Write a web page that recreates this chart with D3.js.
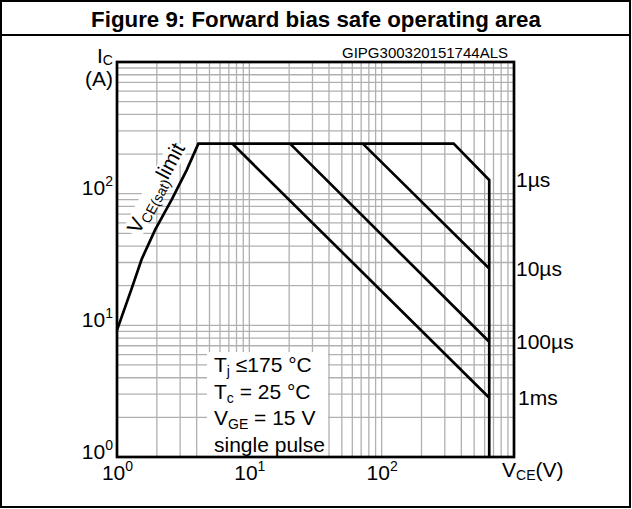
<!DOCTYPE html>
<html><head><meta charset="utf-8">
<script src="https://cdn.jsdelivr.net/npm/d3@7/dist/d3.min.js"></script>
<style>
html,body{margin:0;padding:0;background:#fff;}
svg{display:block;font-family:"Liberation Sans",Arial,sans-serif;}
</style></head>
<body>
<svg id="chart" width="632" height="509"></svg>
<script>
// ---- data ----
const titleText = "Figure 9: Forward bias safe operating area";
const codeText = "GIPG300320151744ALS";
const xTickValues = [1, 10, 100];
const yTickValues = [1, 10, 100];
const xDomain = [1, 1000];
const yDomain = [1, 1000];
// VCE(sat) limit curve
const vceSatV = [1.0, 1.29, 1.54, 1.94, 2.59, 3.36, 4.12];
const vceSatI = [9.2, 19, 32, 53, 90, 151, 240];
const plateauI = 240;
const vMax = 650;
// pulse-width lines
const pulseLabels = ["1\u00b5s", "10\u00b5s", "100\u00b5s", "1ms"];
const pulseStartV = [350, 72, 20.3, 7.44];
const pulseEndI = [127, 27, 7.5, 2.82];
// annotation
const annoMain = ["T", "T", "V", "single pulse"];
const annoSub = ["j", "c", "GE", ""];
const annoRest = [" \u2264175 \u00b0C", " = 25 \u00b0C", " = 15 V", ""];

// ---- layout ----
const svg = d3.select("#chart");
const L = 117, R = 514, T = 62, B = 457;
const x = d3.scaleLog().domain(xDomain).range([L, R]);
const y = d3.scaleLog().domain(yDomain).range([B, T]);

// outer frame and title
svg.append("rect").attr("x", 1).attr("y", 1).attr("width", 629).attr("height", 506)
  .attr("fill", "none").attr("stroke", "#000").attr("stroke-width", 2);
svg.append("line").attr("x1", 1).attr("x2", 630).attr("y1", 35).attr("y2", 35)
  .attr("stroke", "#000").attr("stroke-width", 2);
svg.append("text").attr("x", 316).attr("y", 27).attr("text-anchor", "middle")
  .attr("font-size", 22.3).attr("font-weight", "bold").text(titleText);

// gridlines
const minor = [];
[1, 10, 100].forEach(d => { for (let m = 1; m <= 9; m++) minor.push(d * m); });
const gridVals = minor.filter(v => v > 1 && v < 1000);
const grid = svg.append("g").attr("stroke", "#b0b0b0").attr("stroke-width", 1.3);
grid.selectAll("line.v").data(gridVals).join("line").attr("class", "v")
  .attr("x1", d => x(d)).attr("x2", d => x(d)).attr("y1", T).attr("y2", B);
grid.selectAll("line.h").data(gridVals).join("line").attr("class", "h")
  .attr("y1", d => y(d)).attr("y2", d => y(d)).attr("x1", L).attr("x2", R);

// white box behind annotation
svg.append("rect").attr("x", 207).attr("y", 352).attr("width", 121).attr("height", B - 352)
  .attr("fill", "#fff");

// VCE(sat) label with white background
const labAngle = -62;
const labG = svg.append("g").attr("transform", `translate(139,235) rotate(${labAngle})`);
labG.append("rect").attr("x", -2).attr("y", -17).attr("width", 102).attr("height", 20).attr("fill", "#fff");
const labT = labG.append("text").attr("font-size", 21);
labT.append("tspan").text("V");
labT.append("tspan").attr("font-size", 14).attr("dy", 4).text("CE(sat)");
labT.append("tspan").attr("dy", -4).text("limit");

// curves
const line = d3.line().x(d => x(d[0])).y(d => y(d[1]));
const envelope = vceSatV.map((v, i) => [v, vceSatI[i]]);
envelope.push([pulseStartV[0], plateauI], [vMax, pulseEndI[0]], [vMax, yDomain[0]]);
svg.append("path").attr("d", line(envelope)).attr("fill", "none")
  .attr("stroke", "#000").attr("stroke-width", 2.7).attr("stroke-linejoin", "miter");
for (let i = 1; i < pulseStartV.length; i++) {
  svg.append("path").attr("d", line([[pulseStartV[i], plateauI], [vMax, pulseEndI[i]]]))
    .attr("fill", "none").attr("stroke", "#000").attr("stroke-width", 2.7);
}

// plot border
svg.append("rect").attr("x", L).attr("y", T).attr("width", R - L).attr("height", B - T)
  .attr("fill", "none").attr("stroke", "#000").attr("stroke-width", 2.7);

// axes
function supLabels(sel) {
  sel.selectAll(".tick text").each(function(d) {
    const t = d3.select(this);
    t.text(null);
    t.append("tspan").text("10");
    t.append("tspan").attr("font-size", 14).attr("dy", -9).text(Math.round(Math.log10(d)));
  });
}
const xAxis = svg.append("g").attr("transform", `translate(0,${B})`)
  .call(d3.axisBottom(x).tickValues(xTickValues).tickSize(0));
xAxis.select(".domain").remove();
xAxis.attr("font-family", null).attr("font-size", null);
xAxis.selectAll(".tick text").attr("font-size", 21)
  .attr("fill", "#000").attr("y", 23).attr("dy", 0);
supLabels(xAxis);

const yAxis = svg.append("g").attr("transform", `translate(${L},0)`)
  .call(d3.axisLeft(y).tickValues(yTickValues).tickSize(0));
yAxis.select(".domain").remove();
yAxis.attr("font-family", null).attr("font-size", null);
yAxis.selectAll(".tick text").attr("font-size", 21).attr("fill", "#000")
  .attr("x", -4).attr("dy", 0).attr("y", 1);
supLabels(yAxis);

// axis titles
const ic = svg.append("text").attr("x", 97).attr("y", 63).attr("font-size", 21);
ic.append("tspan").text("I");
ic.append("tspan").attr("font-size", 14).attr("dy", 2).text("C");
svg.append("text").attr("x", 113).attr("y", 86).attr("text-anchor", "end")
  .attr("font-size", 21).text("(A)");
const vce = svg.append("text").attr("x", 502).attr("y", 477).attr("font-size", 21);
vce.append("tspan").text("V");
vce.append("tspan").attr("font-size", 14).attr("dy", 3).text("CE");
vce.append("tspan").attr("dy", -3).text("(V)");

svg.append("text").attr("x", 508).attr("y", 58).attr("text-anchor", "end")
  .attr("font-size", 15).text(codeText);

// pulse labels
svg.selectAll("text.pl").data(pulseLabels).join("text").attr("class", "pl")
  .attr("x", (d, i) => i === 3 ? 518 : 516)
  .attr("y", (d, i) => y(pulseEndI[i]) + 7)
  .attr("font-size", 21).text(d => d);

// annotation
annoMain.forEach((m, i) => {
  const t = svg.append("text").attr("x", 214).attr("y", 372 + i * 26.6).attr("font-size", 21);
  t.append("tspan").text(m);
  if (annoSub[i]) {
    t.append("tspan").attr("font-size", 14).attr("dy", 4).text(annoSub[i]);
    t.append("tspan").attr("dy", -4).text(annoRest[i]);
  }
});
</script>
</body></html>
